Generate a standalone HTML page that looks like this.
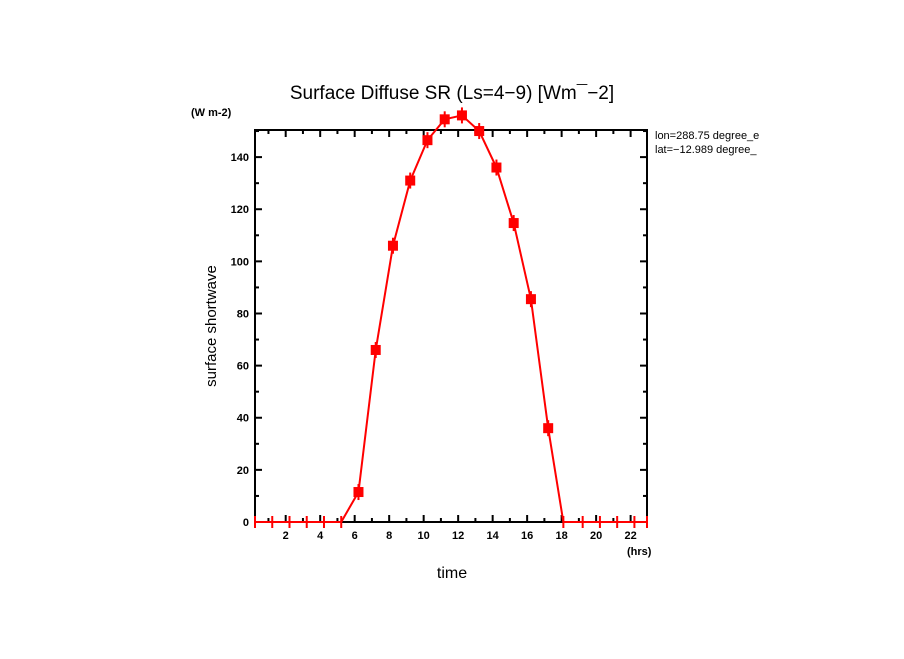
<!DOCTYPE html>
<html><head><meta charset="utf-8"><style>
body{margin:0;background:#fff;width:904px;height:654px;overflow:hidden}
text{font-family:"Liberation Sans",sans-serif}
</style></head><body>
<svg id="chart" width="904" height="654" xmlns="http://www.w3.org/2000/svg">
<text x="452" y="99" font-size="19" text-anchor="middle">Surface Diffuse SR (Ls=4−9) [Wm¯−2]</text>
<text x="191" y="116" font-size="11" font-weight="bold">(W m-2)</text>
<text x="627" y="555" font-size="11" font-weight="bold">(hrs)</text>
<text x="452" y="578" font-size="16" text-anchor="middle">time</text>
<text transform="translate(216,326) rotate(-90)" font-size="15" text-anchor="middle">surface shortwave</text>
<text x="655" y="139" font-size="11">lon=288.75 degree_e</text>
<text x="655" y="153" font-size="11">lat=−12.989 degree_</text>
<rect x="780" y="125" width="124" height="35" fill="#fff"/>
<g id="axes"></g><g id="series"></g>
</svg>
<script>
const hours=[0.22,1.22,2.22,3.22,4.22,5.22,6.22,7.22,8.22,9.22,10.22,11.22,12.22,13.22,14.22,15.22,16.22,17.22,18.1,19.22,20.22,21.22,22.22,22.95];
const values=[0,0,0,0,0,0,11.5,66,106,131,146.5,154.5,156,150,136,114.7,85.5,36,0,0,0,0,0,0];
const xTicks=[2,4,6,8,10,12,14,16,18,20,22];
const yTicks=[0,20,40,60,80,100,120,140];
const L=255,R=647,T=130,B=522,xmin=0.22,xmax=22.95,ymin=0,ymax=150.4;
const X=v=>L+(v-xmin)/(xmax-xmin)*(R-L);
const Y=v=>B-(v-ymin)/(ymax-ymin)*(B-T);
const NS="http://www.w3.org/2000/svg";
function mk(tag,attrs,parent){const e=document.createElementNS(NS,tag);for(const k in attrs)e.setAttribute(k,attrs[k]);parent.appendChild(e);return e;}
const ax=document.getElementById('axes');
const frame=mk('rect',{x:L,y:T,width:R-L,height:B-T,fill:'none',stroke:'#000','stroke-width':2},ax);


for(let v=1;v<23;v++){const x=X(v);const len=v%2?4:7;
mk('line',{x1:x,x2:x,y1:B,y2:B-len,stroke:'#000','stroke-width':2},ax);
mk('line',{x1:x,x2:x,y1:T,y2:T+len,stroke:'#000','stroke-width':2},ax);}
xTicks.forEach(v=>{const t=mk('text',{x:X(v),y:B+17,'font-size':11,'font-weight':'bold','text-anchor':'middle'},ax);t.textContent=v;

});
for(let v=10;v<=150;v+=10){const y=Y(v);const len=v%20?4:7;
mk('line',{x1:L,x2:L+len,y1:y,y2:y,stroke:'#000','stroke-width':2},ax);
mk('line',{x1:R,x2:R-len,y1:y,y2:y,stroke:'#000','stroke-width':2},ax);}
yTicks.forEach(v=>{const t=mk('text',{x:L-6,y:Y(v)+4,'font-size':11,'font-weight':'bold','text-anchor':'end'},ax);t.textContent=v;

});
const sg=document.getElementById('series');
const pts=hours.map((h,i)=>X(h)+','+Y(values[i])).join(' ');
const line=mk('polyline',{points:pts,fill:'none',stroke:'#f00','stroke-width':2},sg);


hours.forEach((h,i)=>{const x=X(h),y=Y(values[i]);
if(values[i]>0){const m=mk('rect',{x:x-5,y:y-5,width:10,height:10,fill:'#f00'},sg);


mk('line',{x1:x,x2:x,y1:y-8,y2:y+8,stroke:'#f00','stroke-width':2},sg);}
else{const m=mk('line',{x1:x,x2:x,y1:y-6,y2:y+6,stroke:'#f00','stroke-width':2},sg);

}});
</script>
</body></html>
